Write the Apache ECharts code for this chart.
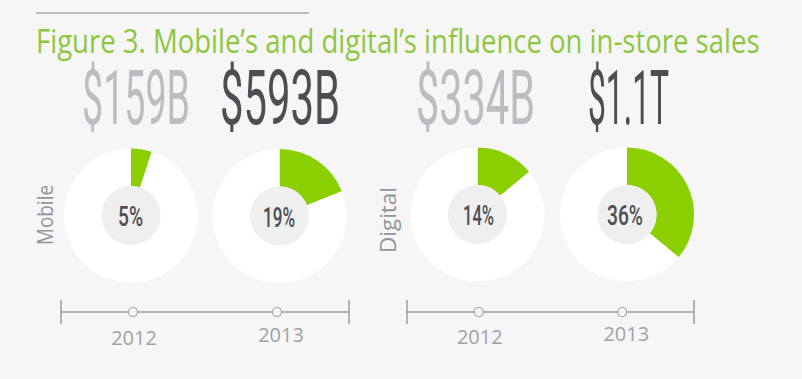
<!DOCTYPE html>
<html><head><meta charset="utf-8">
<script src="https://cdn.jsdelivr.net/npm/echarts@6/dist/echarts.min.js"></script>
<style>html,body{margin:0;padding:0;background:#f6f6f7}#c{width:802px;height:379px}</style>
</head><body><div id="c"></div>
<script>
// ---- data ----
const titleText = 'Figure 3. Mobile’s and digital’s influence on in-store sales';
const years = ['2012', '2013'];
const groups = ['Mobile', 'Digital'];
const mobileTotals = ['$159B', '$593B'];
const digitalTotals = ['$334B', '$1.1T'];
const mobileShare = [5, 19];
const digitalShare = [14, 36];
const yearPositions = [1, 3];   // positions on the 0..4 timeline

// ---- layout / style ----
const BG = '#f6f6f7', GREEN = '#8ccf00', TITLE_GREEN = '#8dc641';
const DARK = '#4d4e52', LIGHT = '#bcbdc1', GREYTXT = '#939497', AXIS = '#9d9d9d';
const donutCenters = [[[131, 215.5], [279.5, 216]], [[477.5, 214.5], [627, 214.5]]];
const R_IN = 29.5, R_OUT = 67;
const totalPos = [[[136, 98, 108], [280, 98, 120]], [[475.5, 98, 119], [628.5, 98, 81]]];
const pctPos = [[[130.5, 217, 25], [279, 217, 32]], [[478.5, 215.5, 31], [625, 215.5, 36]]];
const groupLabelPos = [[45, 215, 60], [388, 220, 66]];
const timelineGrids = [{ left: 61, width: 288 }, { left: 407, width: 287 }];
const yearLabelOffsets = [[[1, 25], [4, 22]], [[1, 24.5], [4, 21]]];

const ctx = document.createElement('canvas').getContext('2d');
function fit(text, font, target) { ctx.font = font; return target / ctx.measureText(text).width; }

const shares = [mobileShare, digitalShare];
const totals = [mobileTotals, digitalTotals];

const graphic = [];
graphic.push({ type: 'line', shape: { x1: 36, y1: 13, x2: 309, y2: 13 }, style: { stroke: '#bdbdbd', lineWidth: 2 } });
const titleFont = '400 33px "Open Sans"';
graphic.push({ type: 'text', x: 36, y: 41, scaleX: fit(titleText, titleFont, 724),
  style: { text: titleText, font: titleFont, fill: TITLE_GREEN, textAlign: 'left', textVerticalAlign: 'middle', align: 'left', verticalAlign: 'middle' } });

const bigFont = '400 76px Roboto';
const pctFont = '500 28px Roboto';
const grpFont = '400 21px "Open Sans"';
groups.forEach((g, gi) => {
  const gp = groupLabelPos[gi];
  graphic.push({ type: 'text', x: gp[0], y: gp[1], rotation: Math.PI / 2, scaleX: fit(g, grpFont, gp[2]),
    style: { text: g, font: grpFont, fill: GREYTXT, textAlign: 'center', textVerticalAlign: 'middle', align: 'center', verticalAlign: 'middle' } });
  years.forEach((y, yi) => {
    const tp = totalPos[gi][yi];
    const t = totals[gi][yi];
    graphic.push({ type: 'text', x: tp[0], y: tp[1], scaleX: fit(t, bigFont, tp[2]),
      style: { text: t, font: bigFont, fill: yi === 0 ? LIGHT : DARK, textAlign: 'center', textVerticalAlign: 'middle', align: 'center', verticalAlign: 'middle' } });
    const pp = pctPos[gi][yi];
    const p = shares[gi][yi] + '%';
    graphic.push({ type: 'text', x: pp[0], y: pp[1], z: 100, scaleX: fit(p, pctFont, pp[2]),
      style: { text: p, font: pctFont, fill: DARK, textAlign: 'center', textVerticalAlign: 'middle', align: 'center', verticalAlign: 'middle' } });
  });
});

const series = [];
groups.forEach((g, gi) => {
  years.forEach((y, yi) => {
    const c = donutCenters[gi][yi];
    const v = shares[gi][yi];
    series.push({ type: 'pie', name: g + ' ' + y, center: c, radius: [R_IN, R_OUT], startAngle: 90, clockwise: true,
      silent: true, label: { show: false }, labelLine: { show: false },
      data: [{ name: 'share', value: v, itemStyle: { color: GREEN } }, { name: 'rest', value: 100 - v, itemStyle: { color: '#ffffff' } }] });
    series.push({ type: 'pie', center: c, radius: [0, R_IN], silent: true, label: { show: false },
      data: [{ value: 1, itemStyle: { color: '#efeff0' } }] });
  });
});

const grids = [], xAxes = [], yAxes = [];
timelineGrids.forEach((tg, i) => {
  grids.push({ left: tg.left, width: tg.width, top: 300, height: 24 });
  xAxes.push({ type: 'value', gridIndex: i, min: 0, max: 4, interval: 4,
    axisLine: { show: true, onZero: true, lineStyle: { color: AXIS, width: 1.5 } },
    axisTick: { show: false }, axisLabel: { show: false },
    splitLine: { show: true, showMinLine: true, showMaxLine: true, lineStyle: { color: AXIS, width: 1.5 } } });
  yAxes.push({ type: 'value', gridIndex: i, min: -1, max: 1, show: false, splitLine: { show: false } });
  series.push({ type: 'scatter', xAxisIndex: i, yAxisIndex: i, symbol: 'circle', symbolSize: 9, z: 10, silent: true,
    itemStyle: { color: '#ffffff', borderColor: AXIS, borderWidth: 1.2 },
    data: years.map((yr, yi) => ({ value: [yearPositions[yi], 0], name: yr,
      label: { offset: yearLabelOffsets[i][yi] } })),
    label: { show: true, position: 'inside', formatter: p => p.name, color: '#88898c',
      fontFamily: 'Open Sans', fontWeight: 400, fontSize: 20 } });
});

const chart = echarts.init(document.getElementById('c'), null, { renderer: 'svg' });
chart.setOption({
  backgroundColor: BG, animation: false,
  grid: grids, xAxis: xAxes, yAxis: yAxes,
  series: series, graphic: graphic
});
</script></body></html>
